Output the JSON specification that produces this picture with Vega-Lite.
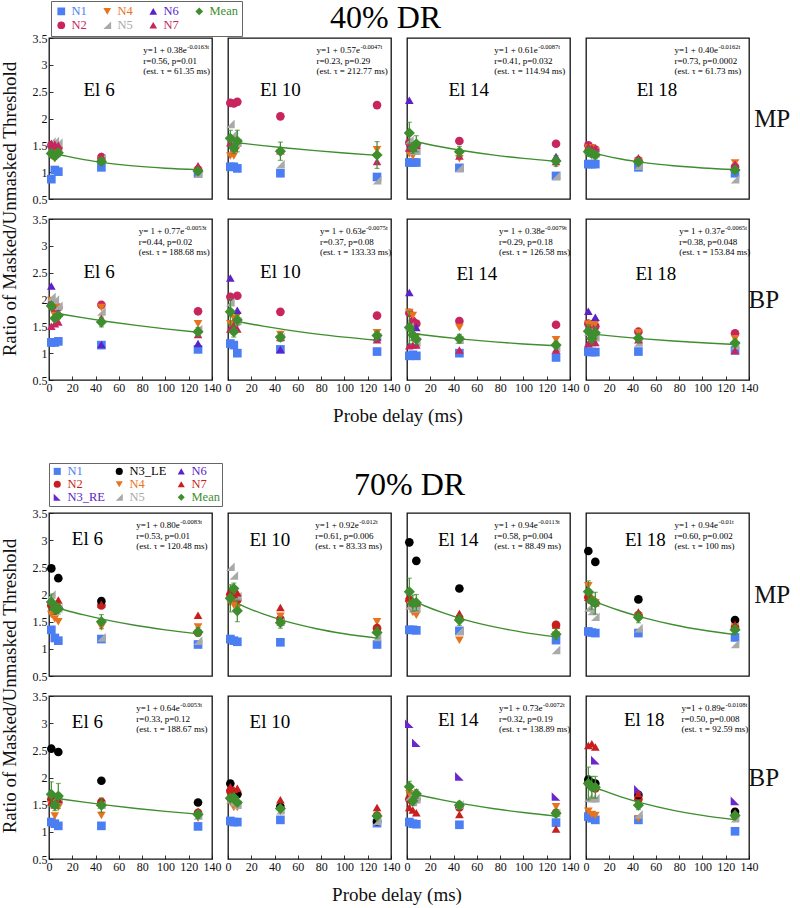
{
"$schema": "https://vega.github.io/schema/vega-lite/v6.json",
"padding": {"left": 0, "top": 0, "right": 0, "bottom": 0},
"config": {
 "font": "Liberation Serif",
 "view": {"stroke": "#111", "strokeWidth": 1.3},
 "axis": {"labelFont": "Liberation Serif", "labelFontSize": 12, "labelColor": "#111", "tickColor": "#333", "domain": false, "grid": false, "tickSize": -4, "labelPadding": 6, "labelOverlap": false, "labelFlush": false},
 "header": {"labelFont": "Liberation Serif", "titleFont": "Liberation Serif", "labelColor": "#111", "titleColor": "#111"},
 "title": {"font": "Liberation Serif", "fontWeight": "normal", "fontSize": 32, "color": "#000"},
 "legend": {"labelFont": "Liberation Serif", "labelFontSize": 12.5}
},
"datasets": {
"d40": [
{"k":"p","c":"MP","e":6,"s":"N1","t":2,"y":0.87},{"k":"p","c":"MP","e":6,"s":"N1","t":5,"y":1.04},{"k":"p","c":"MP","e":6,"s":"N1","t":8,"y":1.01},{"k":"p","c":"MP","e":6,"s":"N1","t":45,"y":1.09},{"k":"p","c":"MP","e":6,"s":"N1","t":128,"y":0.98},
{"k":"p","c":"MP","e":6,"s":"N2","t":2,"y":1.50},{"k":"p","c":"MP","e":6,"s":"N2","t":5,"y":1.47},{"k":"p","c":"MP","e":6,"s":"N2","t":8,"y":1.45},{"k":"p","c":"MP","e":6,"s":"N2","t":45,"y":1.28},{"k":"p","c":"MP","e":6,"s":"N2","t":128,"y":1.05},
{"k":"p","c":"MP","e":6,"s":"N4","t":2,"y":1.30},{"k":"p","c":"MP","e":6,"s":"N4","t":5,"y":1.25},{"k":"p","c":"MP","e":6,"s":"N4","t":8,"y":1.35},{"k":"p","c":"MP","e":6,"s":"N4","t":45,"y":1.22},{"k":"p","c":"MP","e":6,"s":"N4","t":128,"y":1.02},
{"k":"p","c":"MP","e":6,"s":"N5","t":2,"y":1.57},{"k":"p","c":"MP","e":6,"s":"N5","t":5,"y":1.58},{"k":"p","c":"MP","e":6,"s":"N5","t":8,"y":1.55},{"k":"p","c":"MP","e":6,"s":"N5","t":45,"y":1.26},{"k":"p","c":"MP","e":6,"s":"N5","t":128,"y":0.97},
{"k":"p","c":"MP","e":6,"s":"N7","t":2,"y":1.54},{"k":"p","c":"MP","e":6,"s":"N7","t":5,"y":1.52},{"k":"p","c":"MP","e":6,"s":"N7","t":8,"y":1.50},{"k":"p","c":"MP","e":6,"s":"N7","t":45,"y":1.30},{"k":"p","c":"MP","e":6,"s":"N7","t":128,"y":1.12},
{"k":"m","c":"MP","e":6,"s":"Mean","t":2,"y":1.35,"lo":1.28,"hi":1.42},{"k":"m","c":"MP","e":6,"s":"Mean","t":5,"y":1.30,"lo":1.24,"hi":1.36},{"k":"m","c":"MP","e":6,"s":"Mean","t":8,"y":1.36,"lo":1.29,"hi":1.43},{"k":"m","c":"MP","e":6,"s":"Mean","t":45,"y":1.20,"lo":1.14,"hi":1.26},{"k":"m","c":"MP","e":6,"s":"Mean","t":128,"y":1.02,"lo":0.98,"hi":1.06},
{"k":"p","c":"MP","e":10,"s":"N1","t":2,"y":1.10},{"k":"p","c":"MP","e":10,"s":"N1","t":5,"y":1.10},{"k":"p","c":"MP","e":10,"s":"N1","t":8,"y":1.07},{"k":"p","c":"MP","e":10,"s":"N1","t":45,"y":0.98},{"k":"p","c":"MP","e":10,"s":"N1","t":128,"y":0.91},
{"k":"p","c":"MP","e":10,"s":"N2","t":2,"y":2.29},{"k":"p","c":"MP","e":10,"s":"N2","t":5,"y":2.28},{"k":"p","c":"MP","e":10,"s":"N2","t":8,"y":2.31},{"k":"p","c":"MP","e":10,"s":"N2","t":45,"y":2.04},{"k":"p","c":"MP","e":10,"s":"N2","t":128,"y":2.25},
{"k":"p","c":"MP","e":10,"s":"N4","t":2,"y":1.30},{"k":"p","c":"MP","e":10,"s":"N4","t":5,"y":1.30},{"k":"p","c":"MP","e":10,"s":"N4","t":8,"y":1.45},{"k":"p","c":"MP","e":10,"s":"N4","t":45,"y":1.35},{"k":"p","c":"MP","e":10,"s":"N4","t":128,"y":1.42},
{"k":"p","c":"MP","e":10,"s":"N5","t":2,"y":1.90},{"k":"p","c":"MP","e":10,"s":"N5","t":5,"y":1.72},{"k":"p","c":"MP","e":10,"s":"N5","t":8,"y":1.55},{"k":"p","c":"MP","e":10,"s":"N5","t":45,"y":1.15},{"k":"p","c":"MP","e":10,"s":"N5","t":128,"y":0.85},
{"k":"p","c":"MP","e":10,"s":"N7","t":2,"y":1.55},{"k":"p","c":"MP","e":10,"s":"N7","t":5,"y":1.45},{"k":"p","c":"MP","e":10,"s":"N7","t":8,"y":1.60},{"k":"p","c":"MP","e":10,"s":"N7","t":45,"y":1.40},{"k":"p","c":"MP","e":10,"s":"N7","t":128,"y":1.20},
{"k":"m","c":"MP","e":10,"s":"Mean","t":2,"y":1.63,"lo":1.48,"hi":1.78},{"k":"m","c":"MP","e":10,"s":"Mean","t":5,"y":1.45,"lo":1.35,"hi":1.55},{"k":"m","c":"MP","e":10,"s":"Mean","t":8,"y":1.58,"lo":1.38,"hi":1.78},{"k":"m","c":"MP","e":10,"s":"Mean","t":45,"y":1.39,"lo":1.22,"hi":1.56},{"k":"m","c":"MP","e":10,"s":"Mean","t":128,"y":1.32,"lo":1.07,"hi":1.57},
{"k":"p","c":"MP","e":14,"s":"N1","t":2,"y":1.18},{"k":"p","c":"MP","e":14,"s":"N1","t":5,"y":1.18},{"k":"p","c":"MP","e":14,"s":"N1","t":8,"y":1.18},{"k":"p","c":"MP","e":14,"s":"N1","t":45,"y":1.08},{"k":"p","c":"MP","e":14,"s":"N1","t":128,"y":0.93},
{"k":"p","c":"MP","e":14,"s":"N2","t":2,"y":1.55},{"k":"p","c":"MP","e":14,"s":"N2","t":5,"y":1.50},{"k":"p","c":"MP","e":14,"s":"N2","t":8,"y":1.50},{"k":"p","c":"MP","e":14,"s":"N2","t":45,"y":1.58},{"k":"p","c":"MP","e":14,"s":"N2","t":128,"y":1.53},
{"k":"p","c":"MP","e":14,"s":"N4","t":2,"y":1.34},{"k":"p","c":"MP","e":14,"s":"N4","t":5,"y":1.30},{"k":"p","c":"MP","e":14,"s":"N4","t":8,"y":1.40},{"k":"p","c":"MP","e":14,"s":"N4","t":45,"y":1.25},{"k":"p","c":"MP","e":14,"s":"N4","t":128,"y":1.15},
{"k":"p","c":"MP","e":14,"s":"N5","t":2,"y":1.60},{"k":"p","c":"MP","e":14,"s":"N5","t":5,"y":1.40},{"k":"p","c":"MP","e":14,"s":"N5","t":8,"y":1.40},{"k":"p","c":"MP","e":14,"s":"N5","t":45,"y":1.08},{"k":"p","c":"MP","e":14,"s":"N5","t":128,"y":0.93},
{"k":"p","c":"MP","e":14,"s":"N6","t":2,"y":2.34},{"k":"p","c":"MP","e":14,"s":"N6","t":128,"y":1.29},
{"k":"p","c":"MP","e":14,"s":"N7","t":2,"y":1.45},{"k":"p","c":"MP","e":14,"s":"N7","t":5,"y":1.45},{"k":"p","c":"MP","e":14,"s":"N7","t":8,"y":1.50},{"k":"p","c":"MP","e":14,"s":"N7","t":45,"y":1.30},{"k":"p","c":"MP","e":14,"s":"N7","t":128,"y":1.20},
{"k":"m","c":"MP","e":14,"s":"Mean","t":2,"y":1.73,"lo":1.53,"hi":1.93},{"k":"m","c":"MP","e":14,"s":"Mean","t":5,"y":1.45,"lo":1.35,"hi":1.55},{"k":"m","c":"MP","e":14,"s":"Mean","t":8,"y":1.53,"lo":1.38,"hi":1.68},{"k":"m","c":"MP","e":14,"s":"Mean","t":45,"y":1.38,"lo":1.28,"hi":1.48},{"k":"m","c":"MP","e":14,"s":"Mean","t":128,"y":1.21,"lo":1.11,"hi":1.31},
{"k":"p","c":"MP","e":18,"s":"N1","t":2,"y":1.15},{"k":"p","c":"MP","e":18,"s":"N1","t":5,"y":1.15},{"k":"p","c":"MP","e":18,"s":"N1","t":8,"y":1.15},{"k":"p","c":"MP","e":18,"s":"N1","t":45,"y":1.09},{"k":"p","c":"MP","e":18,"s":"N1","t":128,"y":0.98},
{"k":"p","c":"MP","e":18,"s":"N2","t":2,"y":1.50},{"k":"p","c":"MP","e":18,"s":"N2","t":5,"y":1.45},{"k":"p","c":"MP","e":18,"s":"N2","t":8,"y":1.42},{"k":"p","c":"MP","e":18,"s":"N2","t":45,"y":1.22},{"k":"p","c":"MP","e":18,"s":"N2","t":128,"y":1.10},
{"k":"p","c":"MP","e":18,"s":"N4","t":2,"y":1.45},{"k":"p","c":"MP","e":18,"s":"N4","t":5,"y":1.45},{"k":"p","c":"MP","e":18,"s":"N4","t":8,"y":1.40},{"k":"p","c":"MP","e":18,"s":"N4","t":45,"y":1.20},{"k":"p","c":"MP","e":18,"s":"N4","t":128,"y":1.17},
{"k":"p","c":"MP","e":18,"s":"N5","t":2,"y":1.40},{"k":"p","c":"MP","e":18,"s":"N5","t":5,"y":1.38},{"k":"p","c":"MP","e":18,"s":"N5","t":8,"y":1.35},{"k":"p","c":"MP","e":18,"s":"N5","t":45,"y":1.12},{"k":"p","c":"MP","e":18,"s":"N5","t":128,"y":0.87},
{"k":"p","c":"MP","e":18,"s":"N7","t":2,"y":1.48},{"k":"p","c":"MP","e":18,"s":"N7","t":5,"y":1.45},{"k":"p","c":"MP","e":18,"s":"N7","t":8,"y":1.45},{"k":"p","c":"MP","e":18,"s":"N7","t":45,"y":1.27},{"k":"p","c":"MP","e":18,"s":"N7","t":128,"y":1.15},
{"k":"m","c":"MP","e":18,"s":"Mean","t":2,"y":1.38,"lo":1.30,"hi":1.46},{"k":"m","c":"MP","e":18,"s":"Mean","t":5,"y":1.35,"lo":1.28,"hi":1.42},{"k":"m","c":"MP","e":18,"s":"Mean","t":8,"y":1.32,"lo":1.25,"hi":1.39},{"k":"m","c":"MP","e":18,"s":"Mean","t":45,"y":1.19,"lo":1.14,"hi":1.24},{"k":"m","c":"MP","e":18,"s":"Mean","t":128,"y":1.04,"lo":0.99,"hi":1.09},
{"k":"p","c":"BP","e":6,"s":"N1","t":2,"y":1.20},{"k":"p","c":"BP","e":6,"s":"N1","t":5,"y":1.20},{"k":"p","c":"BP","e":6,"s":"N1","t":8,"y":1.22},{"k":"p","c":"BP","e":6,"s":"N1","t":45,"y":1.15},{"k":"p","c":"BP","e":6,"s":"N1","t":128,"y":1.07},
{"k":"p","c":"BP","e":6,"s":"N2","t":2,"y":1.90},{"k":"p","c":"BP","e":6,"s":"N2","t":5,"y":1.80},{"k":"p","c":"BP","e":6,"s":"N2","t":8,"y":1.85},{"k":"p","c":"BP","e":6,"s":"N2","t":45,"y":1.90},{"k":"p","c":"BP","e":6,"s":"N2","t":128,"y":1.78},
{"k":"p","c":"BP","e":6,"s":"N4","t":2,"y":1.98},{"k":"p","c":"BP","e":6,"s":"N4","t":5,"y":1.70},{"k":"p","c":"BP","e":6,"s":"N4","t":8,"y":1.85},{"k":"p","c":"BP","e":6,"s":"N4","t":45,"y":1.85},{"k":"p","c":"BP","e":6,"s":"N4","t":128,"y":1.55},
{"k":"p","c":"BP","e":6,"s":"N5","t":2,"y":2.05},{"k":"p","c":"BP","e":6,"s":"N5","t":5,"y":2.00},{"k":"p","c":"BP","e":6,"s":"N5","t":8,"y":1.88},{"k":"p","c":"BP","e":6,"s":"N5","t":45,"y":1.78},{"k":"p","c":"BP","e":6,"s":"N5","t":128,"y":1.45},
{"k":"p","c":"BP","e":6,"s":"N6","t":2,"y":2.25},{"k":"p","c":"BP","e":6,"s":"N6","t":8,"y":1.75},{"k":"p","c":"BP","e":6,"s":"N6","t":45,"y":1.16},{"k":"p","c":"BP","e":6,"s":"N6","t":128,"y":1.18},
{"k":"p","c":"BP","e":6,"s":"N7","t":2,"y":1.50},{"k":"p","c":"BP","e":6,"s":"N7","t":5,"y":1.55},{"k":"p","c":"BP","e":6,"s":"N7","t":8,"y":1.58},{"k":"p","c":"BP","e":6,"s":"N7","t":45,"y":1.65},{"k":"p","c":"BP","e":6,"s":"N7","t":128,"y":1.35},
{"k":"m","c":"BP","e":6,"s":"Mean","t":2,"y":1.88,"lo":1.81,"hi":1.95},{"k":"m","c":"BP","e":6,"s":"Mean","t":5,"y":1.65,"lo":1.59,"hi":1.71},{"k":"m","c":"BP","e":6,"s":"Mean","t":8,"y":1.70,"lo":1.64,"hi":1.76},{"k":"m","c":"BP","e":6,"s":"Mean","t":45,"y":1.58,"lo":1.49,"hi":1.67},{"k":"m","c":"BP","e":6,"s":"Mean","t":128,"y":1.40,"lo":1.32,"hi":1.48},
{"k":"p","c":"BP","e":10,"s":"N1","t":2,"y":1.18},{"k":"p","c":"BP","e":10,"s":"N1","t":5,"y":1.15},{"k":"p","c":"BP","e":10,"s":"N1","t":8,"y":1.00},{"k":"p","c":"BP","e":10,"s":"N1","t":45,"y":1.07},{"k":"p","c":"BP","e":10,"s":"N1","t":128,"y":1.03},
{"k":"p","c":"BP","e":10,"s":"N2","t":2,"y":2.05},{"k":"p","c":"BP","e":10,"s":"N2","t":5,"y":1.50},{"k":"p","c":"BP","e":10,"s":"N2","t":8,"y":2.07},{"k":"p","c":"BP","e":10,"s":"N2","t":45,"y":1.77},{"k":"p","c":"BP","e":10,"s":"N2","t":128,"y":1.70},
{"k":"p","c":"BP","e":10,"s":"N4","t":2,"y":1.55},{"k":"p","c":"BP","e":10,"s":"N4","t":5,"y":1.65},{"k":"p","c":"BP","e":10,"s":"N4","t":8,"y":1.70},{"k":"p","c":"BP","e":10,"s":"N4","t":45,"y":1.35},{"k":"p","c":"BP","e":10,"s":"N4","t":128,"y":1.38},
{"k":"p","c":"BP","e":10,"s":"N5","t":2,"y":1.95},{"k":"p","c":"BP","e":10,"s":"N5","t":5,"y":1.50},{"k":"p","c":"BP","e":10,"s":"N5","t":8,"y":1.60},{"k":"p","c":"BP","e":10,"s":"N5","t":45,"y":1.30},{"k":"p","c":"BP","e":10,"s":"N5","t":128,"y":1.30},
{"k":"p","c":"BP","e":10,"s":"N6","t":2,"y":2.40},{"k":"p","c":"BP","e":10,"s":"N6","t":8,"y":1.80},{"k":"p","c":"BP","e":10,"s":"N6","t":45,"y":1.07},{"k":"p","c":"BP","e":10,"s":"N6","t":128,"y":1.30},
{"k":"p","c":"BP","e":10,"s":"N7","t":2,"y":1.45},{"k":"p","c":"BP","e":10,"s":"N7","t":5,"y":1.50},{"k":"p","c":"BP","e":10,"s":"N7","t":8,"y":1.45},{"k":"p","c":"BP","e":10,"s":"N7","t":45,"y":1.30},{"k":"p","c":"BP","e":10,"s":"N7","t":128,"y":1.25},
{"k":"m","c":"BP","e":10,"s":"Mean","t":2,"y":1.77,"lo":1.52,"hi":2.02},{"k":"m","c":"BP","e":10,"s":"Mean","t":5,"y":1.40,"lo":1.30,"hi":1.50},{"k":"m","c":"BP","e":10,"s":"Mean","t":8,"y":1.62,"lo":1.52,"hi":1.72},{"k":"m","c":"BP","e":10,"s":"Mean","t":45,"y":1.30,"lo":1.22,"hi":1.38},{"k":"m","c":"BP","e":10,"s":"Mean","t":128,"y":1.33,"lo":1.26,"hi":1.40},
{"k":"p","c":"BP","e":14,"s":"N1","t":2,"y":0.95},{"k":"p","c":"BP","e":14,"s":"N1","t":5,"y":0.97},{"k":"p","c":"BP","e":14,"s":"N1","t":8,"y":0.95},{"k":"p","c":"BP","e":14,"s":"N1","t":45,"y":1.00},{"k":"p","c":"BP","e":14,"s":"N1","t":128,"y":0.92},
{"k":"p","c":"BP","e":14,"s":"N2","t":2,"y":1.75},{"k":"p","c":"BP","e":14,"s":"N2","t":5,"y":1.60},{"k":"p","c":"BP","e":14,"s":"N2","t":8,"y":1.55},{"k":"p","c":"BP","e":14,"s":"N2","t":45,"y":1.60},{"k":"p","c":"BP","e":14,"s":"N2","t":128,"y":1.53},
{"k":"p","c":"BP","e":14,"s":"N4","t":2,"y":1.76},{"k":"p","c":"BP","e":14,"s":"N4","t":5,"y":1.70},{"k":"p","c":"BP","e":14,"s":"N4","t":8,"y":1.30},{"k":"p","c":"BP","e":14,"s":"N4","t":45,"y":1.48},{"k":"p","c":"BP","e":14,"s":"N4","t":128,"y":1.25},
{"k":"p","c":"BP","e":14,"s":"N5","t":2,"y":1.50},{"k":"p","c":"BP","e":14,"s":"N5","t":5,"y":1.30},{"k":"p","c":"BP","e":14,"s":"N5","t":8,"y":1.20},{"k":"p","c":"BP","e":14,"s":"N5","t":45,"y":1.25},{"k":"p","c":"BP","e":14,"s":"N5","t":128,"y":1.10},
{"k":"p","c":"BP","e":14,"s":"N6","t":2,"y":2.13},{"k":"p","c":"BP","e":14,"s":"N6","t":8,"y":1.48},
{"k":"p","c":"BP","e":14,"s":"N7","t":2,"y":1.14},{"k":"p","c":"BP","e":14,"s":"N7","t":5,"y":1.15},{"k":"p","c":"BP","e":14,"s":"N7","t":8,"y":1.15},{"k":"p","c":"BP","e":14,"s":"N7","t":45,"y":1.06},{"k":"p","c":"BP","e":14,"s":"N7","t":128,"y":1.06},
{"k":"m","c":"BP","e":14,"s":"Mean","t":2,"y":1.48,"lo":1.18,"hi":1.78},{"k":"m","c":"BP","e":14,"s":"Mean","t":5,"y":1.34,"lo":1.24,"hi":1.44},{"k":"m","c":"BP","e":14,"s":"Mean","t":8,"y":1.26,"lo":1.16,"hi":1.36},{"k":"m","c":"BP","e":14,"s":"Mean","t":45,"y":1.27,"lo":1.19,"hi":1.35},{"k":"m","c":"BP","e":14,"s":"Mean","t":128,"y":1.15,"lo":1.08,"hi":1.22},
{"k":"p","c":"BP","e":18,"s":"N1","t":2,"y":1.03},{"k":"p","c":"BP","e":18,"s":"N1","t":5,"y":1.02},{"k":"p","c":"BP","e":18,"s":"N1","t":8,"y":1.02},{"k":"p","c":"BP","e":18,"s":"N1","t":45,"y":1.03},{"k":"p","c":"BP","e":18,"s":"N1","t":128,"y":1.05},
{"k":"p","c":"BP","e":18,"s":"N2","t":2,"y":1.55},{"k":"p","c":"BP","e":18,"s":"N2","t":5,"y":1.50},{"k":"p","c":"BP","e":18,"s":"N2","t":8,"y":1.50},{"k":"p","c":"BP","e":18,"s":"N2","t":45,"y":1.40},{"k":"p","c":"BP","e":18,"s":"N2","t":128,"y":1.37},
{"k":"p","c":"BP","e":18,"s":"N4","t":2,"y":1.54},{"k":"p","c":"BP","e":18,"s":"N4","t":5,"y":1.55},{"k":"p","c":"BP","e":18,"s":"N4","t":8,"y":1.55},{"k":"p","c":"BP","e":18,"s":"N4","t":45,"y":1.38},{"k":"p","c":"BP","e":18,"s":"N4","t":128,"y":1.27},
{"k":"p","c":"BP","e":18,"s":"N5","t":2,"y":1.40},{"k":"p","c":"BP","e":18,"s":"N5","t":5,"y":1.35},{"k":"p","c":"BP","e":18,"s":"N5","t":8,"y":1.30},{"k":"p","c":"BP","e":18,"s":"N5","t":45,"y":1.20},{"k":"p","c":"BP","e":18,"s":"N5","t":128,"y":1.15},
{"k":"p","c":"BP","e":18,"s":"N6","t":2,"y":1.78},{"k":"p","c":"BP","e":18,"s":"N6","t":8,"y":1.67},
{"k":"p","c":"BP","e":18,"s":"N7","t":2,"y":1.18},{"k":"p","c":"BP","e":18,"s":"N7","t":5,"y":1.20},{"k":"p","c":"BP","e":18,"s":"N7","t":8,"y":1.20},{"k":"p","c":"BP","e":18,"s":"N7","t":45,"y":1.25},{"k":"p","c":"BP","e":18,"s":"N7","t":128,"y":1.05},
{"k":"m","c":"BP","e":18,"s":"Mean","t":2,"y":1.41,"lo":1.29,"hi":1.53},{"k":"m","c":"BP","e":18,"s":"Mean","t":5,"y":1.27,"lo":1.17,"hi":1.37},{"k":"m","c":"BP","e":18,"s":"Mean","t":8,"y":1.38,"lo":1.28,"hi":1.48},{"k":"m","c":"BP","e":18,"s":"Mean","t":45,"y":1.28,"lo":1.21,"hi":1.35},{"k":"m","c":"BP","e":18,"s":"Mean","t":128,"y":1.19,"lo":1.12,"hi":1.26},
{"k":"f","c":"MP","e":6,"t":8,"y":1.334},{"k":"f","c":"MP","e":6,"t":15,"y":1.298},{"k":"f","c":"MP","e":6,"t":30,"y":1.233},{"k":"f","c":"MP","e":6,"t":50,"y":1.168},{"k":"f","c":"MP","e":6,"t":75,"y":1.112},{"k":"f","c":"MP","e":6,"t":100,"y":1.074},{"k":"f","c":"MP","e":6,"t":128,"y":1.047},
{"k":"f","c":"MP","e":10,"t":8,"y":1.549},{"k":"f","c":"MP","e":10,"t":15,"y":1.531},{"k":"f","c":"MP","e":10,"t":30,"y":1.495},{"k":"f","c":"MP","e":10,"t":50,"y":1.451},{"k":"f","c":"MP","e":10,"t":75,"y":1.401},{"k":"f","c":"MP","e":10,"t":100,"y":1.356},{"k":"f","c":"MP","e":10,"t":128,"y":1.312},
{"k":"f","c":"MP","e":14,"t":8,"y":1.569},{"k":"f","c":"MP","e":14,"t":15,"y":1.535},{"k":"f","c":"MP","e":14,"t":30,"y":1.470},{"k":"f","c":"MP","e":14,"t":50,"y":1.395},{"k":"f","c":"MP","e":14,"t":75,"y":1.318},{"k":"f","c":"MP","e":14,"t":100,"y":1.256},{"k":"f","c":"MP","e":14,"t":128,"y":1.200},
{"k":"f","c":"MP","e":18,"t":8,"y":1.351},{"k":"f","c":"MP","e":18,"t":15,"y":1.314},{"k":"f","c":"MP","e":18,"t":30,"y":1.246},{"k":"f","c":"MP","e":18,"t":50,"y":1.178},{"k":"f","c":"MP","e":18,"t":75,"y":1.119},{"k":"f","c":"MP","e":18,"t":100,"y":1.079},{"k":"f","c":"MP","e":18,"t":128,"y":1.050},
{"k":"f","c":"BP","e":6,"t":8,"y":1.738},{"k":"f","c":"BP","e":6,"t":15,"y":1.711},{"k":"f","c":"BP","e":6,"t":30,"y":1.657},{"k":"f","c":"BP","e":6,"t":50,"y":1.591},{"k":"f","c":"BP","e":6,"t":75,"y":1.517},{"k":"f","c":"BP","e":6,"t":100,"y":1.453},{"k":"f","c":"BP","e":6,"t":128,"y":1.391},
{"k":"f","c":"BP","e":10,"t":8,"y":1.593},{"k":"f","c":"BP","e":10,"t":15,"y":1.563},{"k":"f","c":"BP","e":10,"t":30,"y":1.503},{"k":"f","c":"BP","e":10,"t":50,"y":1.433},{"k":"f","c":"BP","e":10,"t":75,"y":1.359},{"k":"f","c":"BP","e":10,"t":100,"y":1.298},{"k":"f","c":"BP","e":10,"t":128,"y":1.241},
{"k":"f","c":"BP","e":14,"t":8,"y":1.357},{"k":"f","c":"BP","e":14,"t":15,"y":1.338},{"k":"f","c":"BP","e":14,"t":30,"y":1.300},{"k":"f","c":"BP","e":14,"t":50,"y":1.256},{"k":"f","c":"BP","e":14,"t":75,"y":1.210},{"k":"f","c":"BP","e":14,"t":100,"y":1.172},{"k":"f","c":"BP","e":14,"t":128,"y":1.138},
{"k":"f","c":"BP","e":18,"t":8,"y":1.351},{"k":"f","c":"BP","e":18,"t":15,"y":1.336},{"k":"f","c":"BP","e":18,"t":30,"y":1.304},{"k":"f","c":"BP","e":18,"t":50,"y":1.267},{"k":"f","c":"BP","e":18,"t":75,"y":1.227},{"k":"f","c":"BP","e":18,"t":100,"y":1.193},{"k":"f","c":"BP","e":18,"t":128,"y":1.161},
{"k":"l","c":"MP","e":6,"t":43,"y":2.53,"txt":"El 6"},{"k":"l","c":"MP","e":10,"t":45,"y":2.53,"txt":"El 10"},{"k":"l","c":"MP","e":14,"t":53,"y":2.53,"txt":"El 14"},{"k":"l","c":"MP","e":18,"t":61,"y":2.53,"txt":"El 18"},
{"k":"l","c":"BP","e":6,"t":43,"y":2.51,"txt":"El 6"},{"k":"l","c":"BP","e":10,"t":45,"y":2.51,"txt":"El 10"},{"k":"l","c":"BP","e":14,"t":60,"y":2.47,"txt":"El 14"},{"k":"l","c":"BP","e":18,"t":60,"y":2.47,"txt":"El 18"},
{"k":"q","c":"MP","e":6,"t":81,"y":3.22,"txt":"y=1 + 0.38e\nr=0.56, p=0.01\n(est. τ = 61.35 ms)"},{"k":"x","c":"MP","e":6,"t":81,"y":3.22,"txt":"-0.0163t"},
{"k":"q","c":"MP","e":10,"t":76,"y":3.22,"txt":"y=1 + 0.57e\nr=0.23, p=0.29\n(est. τ = 212.77 ms)"},{"k":"x","c":"MP","e":10,"t":76,"y":3.22,"txt":"-0.0047t"},
{"k":"q","c":"MP","e":14,"t":75,"y":3.22,"txt":"y=1 + 0.61e\nr=0.41, p=0.032\n(est. τ = 114.94 ms)"},{"k":"x","c":"MP","e":14,"t":75,"y":3.22,"txt":"-0.0087t"},
{"k":"q","c":"MP","e":18,"t":76,"y":3.22,"txt":"y=1 + 0.40e\nr=0.73, p=0.0002\n(est. τ = 61.73 ms)"},{"k":"x","c":"MP","e":18,"t":76,"y":3.22,"txt":"-0.0162t"},
{"k":"q","c":"BP","e":6,"t":77,"y":3.22,"txt":"y= 1 + 0.77e\nr=0.44, p=0.02\n(est. τ = 188.68 ms)"},{"k":"x2","c":"BP","e":6,"t":77,"y":3.22,"txt":"-0.0053t"},
{"k":"q","c":"BP","e":10,"t":79,"y":3.22,"txt":"y= 1 + 0.63e\nr=0.37, p=0.08\n(est. τ = 133.33 ms)"},{"k":"x2","c":"BP","e":10,"t":79,"y":3.22,"txt":"-0.0075t"},
{"k":"q","c":"BP","e":14,"t":79,"y":3.22,"txt":"y= 1 + 0.38e\nr=0.29, p=0.18\n(est. τ = 126.58 ms)"},{"k":"x2","c":"BP","e":14,"t":79,"y":3.22,"txt":"-0.0079t"},
{"k":"q","c":"BP","e":18,"t":80,"y":3.22,"txt":"y= 1 + 0.37e\nr=0.38, p=0.048\n(est. τ = 153.84 ms)"},{"k":"x2","c":"BP","e":18,"t":80,"y":3.22,"txt":"-0.0065t"}
],
"d70": [
{"k":"p","c":"MP","e":6,"s":"N1","t":2,"y":1.35},{"k":"p","c":"MP","e":6,"s":"N1","t":5,"y":1.20},{"k":"p","c":"MP","e":6,"s":"N1","t":8,"y":1.15},{"k":"p","c":"MP","e":6,"s":"N1","t":45,"y":1.18},{"k":"p","c":"MP","e":6,"s":"N1","t":128,"y":1.08},
{"k":"p","c":"MP","e":6,"s":"N2","t":2,"y":1.80},{"k":"p","c":"MP","e":6,"s":"N2","t":5,"y":1.70},{"k":"p","c":"MP","e":6,"s":"N2","t":8,"y":1.75},{"k":"p","c":"MP","e":6,"s":"N2","t":45,"y":1.80},{"k":"p","c":"MP","e":6,"s":"N2","t":128,"y":1.30},
{"k":"p","c":"MP","e":6,"s":"N3_LE","t":2,"y":2.48},{"k":"p","c":"MP","e":6,"s":"N3_LE","t":8,"y":2.30},{"k":"p","c":"MP","e":6,"s":"N3_LE","t":45,"y":1.88},
{"k":"p","c":"MP","e":6,"s":"N4","t":2,"y":1.63},{"k":"p","c":"MP","e":6,"s":"N4","t":5,"y":1.55},{"k":"p","c":"MP","e":6,"s":"N4","t":8,"y":1.50},{"k":"p","c":"MP","e":6,"s":"N4","t":45,"y":1.40},{"k":"p","c":"MP","e":6,"s":"N4","t":128,"y":1.40},
{"k":"p","c":"MP","e":6,"s":"N5","t":2,"y":2.00},{"k":"p","c":"MP","e":6,"s":"N5","t":5,"y":1.85},{"k":"p","c":"MP","e":6,"s":"N5","t":8,"y":1.75},{"k":"p","c":"MP","e":6,"s":"N5","t":45,"y":1.21},{"k":"p","c":"MP","e":6,"s":"N5","t":128,"y":1.15},
{"k":"p","c":"MP","e":6,"s":"N7","t":2,"y":1.85},{"k":"p","c":"MP","e":6,"s":"N7","t":5,"y":1.80},{"k":"p","c":"MP","e":6,"s":"N7","t":8,"y":1.90},{"k":"p","c":"MP","e":6,"s":"N7","t":45,"y":1.82},{"k":"p","c":"MP","e":6,"s":"N7","t":128,"y":1.62},
{"k":"m","c":"MP","e":6,"s":"Mean","t":2,"y":1.86,"lo":1.71,"hi":2.01},{"k":"m","c":"MP","e":6,"s":"Mean","t":5,"y":1.74,"lo":1.64,"hi":1.84},{"k":"m","c":"MP","e":6,"s":"Mean","t":8,"y":1.74,"lo":1.64,"hi":1.84},{"k":"m","c":"MP","e":6,"s":"Mean","t":45,"y":1.50,"lo":1.37,"hi":1.63},{"k":"m","c":"MP","e":6,"s":"Mean","t":128,"y":1.31,"lo":1.23,"hi":1.39},
{"k":"p","c":"MP","e":10,"s":"N1","t":2,"y":1.18},{"k":"p","c":"MP","e":10,"s":"N1","t":5,"y":1.15},{"k":"p","c":"MP","e":10,"s":"N1","t":8,"y":1.13},{"k":"p","c":"MP","e":10,"s":"N1","t":45,"y":1.12},{"k":"p","c":"MP","e":10,"s":"N1","t":128,"y":1.08},
{"k":"p","c":"MP","e":10,"s":"N2","t":2,"y":2.00},{"k":"p","c":"MP","e":10,"s":"N2","t":5,"y":1.90},{"k":"p","c":"MP","e":10,"s":"N2","t":8,"y":1.90},{"k":"p","c":"MP","e":10,"s":"N2","t":45,"y":1.55},{"k":"p","c":"MP","e":10,"s":"N2","t":128,"y":1.38},
{"k":"p","c":"MP","e":10,"s":"N4","t":2,"y":1.85},{"k":"p","c":"MP","e":10,"s":"N4","t":5,"y":1.80},{"k":"p","c":"MP","e":10,"s":"N4","t":8,"y":1.75},{"k":"p","c":"MP","e":10,"s":"N4","t":45,"y":1.60},{"k":"p","c":"MP","e":10,"s":"N4","t":128,"y":1.50},
{"k":"p","c":"MP","e":10,"s":"N5","t":2,"y":2.51},{"k":"p","c":"MP","e":10,"s":"N5","t":5,"y":2.35},{"k":"p","c":"MP","e":10,"s":"N5","t":8,"y":1.97},{"k":"p","c":"MP","e":10,"s":"N5","t":45,"y":1.50},{"k":"p","c":"MP","e":10,"s":"N5","t":128,"y":1.22},
{"k":"p","c":"MP","e":10,"s":"N7","t":2,"y":2.06},{"k":"p","c":"MP","e":10,"s":"N7","t":5,"y":2.00},{"k":"p","c":"MP","e":10,"s":"N7","t":8,"y":2.03},{"k":"p","c":"MP","e":10,"s":"N7","t":45,"y":1.76},{"k":"p","c":"MP","e":10,"s":"N7","t":128,"y":1.41},
{"k":"m","c":"MP","e":10,"s":"Mean","t":2,"y":1.93,"lo":1.68,"hi":2.18},{"k":"m","c":"MP","e":10,"s":"Mean","t":5,"y":2.11,"lo":2.01,"hi":2.21},{"k":"m","c":"MP","e":10,"s":"Mean","t":8,"y":1.70,"lo":1.50,"hi":1.90},{"k":"m","c":"MP","e":10,"s":"Mean","t":45,"y":1.48,"lo":1.38,"hi":1.58},{"k":"m","c":"MP","e":10,"s":"Mean","t":128,"y":1.30,"lo":1.20,"hi":1.40},
{"k":"p","c":"MP","e":14,"s":"N1","t":2,"y":1.35},{"k":"p","c":"MP","e":14,"s":"N1","t":5,"y":1.35},{"k":"p","c":"MP","e":14,"s":"N1","t":8,"y":1.34},{"k":"p","c":"MP","e":14,"s":"N1","t":45,"y":1.33},{"k":"p","c":"MP","e":14,"s":"N1","t":128,"y":1.16},
{"k":"p","c":"MP","e":14,"s":"N2","t":2,"y":1.90},{"k":"p","c":"MP","e":14,"s":"N2","t":5,"y":1.85},{"k":"p","c":"MP","e":14,"s":"N2","t":8,"y":1.80},{"k":"p","c":"MP","e":14,"s":"N2","t":45,"y":1.55},{"k":"p","c":"MP","e":14,"s":"N2","t":128,"y":1.44},
{"k":"p","c":"MP","e":14,"s":"N3_LE","t":2,"y":2.96},{"k":"p","c":"MP","e":14,"s":"N3_LE","t":8,"y":2.62},{"k":"p","c":"MP","e":14,"s":"N3_LE","t":45,"y":2.11},
{"k":"p","c":"MP","e":14,"s":"N4","t":2,"y":1.85},{"k":"p","c":"MP","e":14,"s":"N4","t":5,"y":1.67},{"k":"p","c":"MP","e":14,"s":"N4","t":8,"y":1.62},{"k":"p","c":"MP","e":14,"s":"N4","t":45,"y":1.16},{"k":"p","c":"MP","e":14,"s":"N4","t":128,"y":1.25},
{"k":"p","c":"MP","e":14,"s":"N5","t":2,"y":1.80},{"k":"p","c":"MP","e":14,"s":"N5","t":5,"y":1.75},{"k":"p","c":"MP","e":14,"s":"N5","t":8,"y":1.75},{"k":"p","c":"MP","e":14,"s":"N5","t":45,"y":1.33},{"k":"p","c":"MP","e":14,"s":"N5","t":128,"y":0.98},
{"k":"p","c":"MP","e":14,"s":"N7","t":2,"y":1.94},{"k":"p","c":"MP","e":14,"s":"N7","t":5,"y":1.85},{"k":"p","c":"MP","e":14,"s":"N7","t":8,"y":1.85},{"k":"p","c":"MP","e":14,"s":"N7","t":45,"y":1.65},{"k":"p","c":"MP","e":14,"s":"N7","t":128,"y":1.44},
{"k":"m","c":"MP","e":14,"s":"Mean","t":2,"y":2.05,"lo":1.80,"hi":2.30},{"k":"m","c":"MP","e":14,"s":"Mean","t":5,"y":1.84,"lo":1.69,"hi":1.99},{"k":"m","c":"MP","e":14,"s":"Mean","t":8,"y":1.85,"lo":1.70,"hi":2.00},{"k":"m","c":"MP","e":14,"s":"Mean","t":45,"y":1.53,"lo":1.43,"hi":1.63},{"k":"m","c":"MP","e":14,"s":"Mean","t":128,"y":1.27,"lo":1.17,"hi":1.37},
{"k":"p","c":"MP","e":18,"s":"N1","t":2,"y":1.32},{"k":"p","c":"MP","e":18,"s":"N1","t":5,"y":1.30},{"k":"p","c":"MP","e":18,"s":"N1","t":8,"y":1.29},{"k":"p","c":"MP","e":18,"s":"N1","t":45,"y":1.29},{"k":"p","c":"MP","e":18,"s":"N1","t":128,"y":1.21},
{"k":"p","c":"MP","e":18,"s":"N2","t":2,"y":1.95},{"k":"p","c":"MP","e":18,"s":"N2","t":5,"y":1.90},{"k":"p","c":"MP","e":18,"s":"N2","t":8,"y":1.85},{"k":"p","c":"MP","e":18,"s":"N2","t":45,"y":1.62},{"k":"p","c":"MP","e":18,"s":"N2","t":128,"y":1.40},
{"k":"p","c":"MP","e":18,"s":"N3_LE","t":2,"y":2.80},{"k":"p","c":"MP","e":18,"s":"N3_LE","t":8,"y":2.60},{"k":"p","c":"MP","e":18,"s":"N3_LE","t":45,"y":1.91},{"k":"p","c":"MP","e":18,"s":"N3_LE","t":128,"y":1.53},
{"k":"p","c":"MP","e":18,"s":"N4","t":2,"y":2.16},{"k":"p","c":"MP","e":18,"s":"N4","t":5,"y":1.90},{"k":"p","c":"MP","e":18,"s":"N4","t":8,"y":1.85},{"k":"p","c":"MP","e":18,"s":"N4","t":45,"y":1.60},{"k":"p","c":"MP","e":18,"s":"N4","t":128,"y":1.40},
{"k":"p","c":"MP","e":18,"s":"N5","t":2,"y":1.76},{"k":"p","c":"MP","e":18,"s":"N5","t":5,"y":1.70},{"k":"p","c":"MP","e":18,"s":"N5","t":8,"y":1.59},{"k":"p","c":"MP","e":18,"s":"N5","t":45,"y":1.38},{"k":"p","c":"MP","e":18,"s":"N5","t":128,"y":1.09},
{"k":"p","c":"MP","e":18,"s":"N7","t":2,"y":1.95},{"k":"p","c":"MP","e":18,"s":"N7","t":5,"y":1.90},{"k":"p","c":"MP","e":18,"s":"N7","t":8,"y":1.85},{"k":"p","c":"MP","e":18,"s":"N7","t":45,"y":1.68},{"k":"p","c":"MP","e":18,"s":"N7","t":128,"y":1.45},
{"k":"m","c":"MP","e":18,"s":"Mean","t":2,"y":2.05,"lo":1.85,"hi":2.25},{"k":"m","c":"MP","e":18,"s":"Mean","t":5,"y":1.88,"lo":1.73,"hi":2.03},{"k":"m","c":"MP","e":18,"s":"Mean","t":8,"y":1.84,"lo":1.64,"hi":2.04},{"k":"m","c":"MP","e":18,"s":"Mean","t":45,"y":1.58,"lo":1.48,"hi":1.68},{"k":"m","c":"MP","e":18,"s":"Mean","t":128,"y":1.35,"lo":1.27,"hi":1.43},
{"k":"p","c":"BP","e":6,"s":"N1","t":2,"y":1.18},{"k":"p","c":"BP","e":6,"s":"N1","t":5,"y":1.15},{"k":"p","c":"BP","e":6,"s":"N1","t":8,"y":1.11},{"k":"p","c":"BP","e":6,"s":"N1","t":45,"y":1.11},{"k":"p","c":"BP","e":6,"s":"N1","t":128,"y":1.10},
{"k":"p","c":"BP","e":6,"s":"N2","t":2,"y":1.60},{"k":"p","c":"BP","e":6,"s":"N2","t":5,"y":1.55},{"k":"p","c":"BP","e":6,"s":"N2","t":8,"y":1.55},{"k":"p","c":"BP","e":6,"s":"N2","t":45,"y":1.55},{"k":"p","c":"BP","e":6,"s":"N2","t":128,"y":1.35},
{"k":"p","c":"BP","e":6,"s":"N3_LE","t":2,"y":2.53},{"k":"p","c":"BP","e":6,"s":"N3_LE","t":8,"y":2.47},{"k":"p","c":"BP","e":6,"s":"N3_LE","t":45,"y":1.94},{"k":"p","c":"BP","e":6,"s":"N3_LE","t":128,"y":1.54},
{"k":"p","c":"BP","e":6,"s":"N4","t":2,"y":1.50},{"k":"p","c":"BP","e":6,"s":"N4","t":5,"y":1.29},{"k":"p","c":"BP","e":6,"s":"N4","t":8,"y":1.45},{"k":"p","c":"BP","e":6,"s":"N4","t":45,"y":1.30},{"k":"p","c":"BP","e":6,"s":"N4","t":128,"y":1.25},
{"k":"p","c":"BP","e":6,"s":"N5","t":2,"y":1.55},{"k":"p","c":"BP","e":6,"s":"N5","t":5,"y":1.50},{"k":"p","c":"BP","e":6,"s":"N5","t":8,"y":1.60},{"k":"p","c":"BP","e":6,"s":"N5","t":45,"y":1.50},{"k":"p","c":"BP","e":6,"s":"N5","t":128,"y":1.30},
{"k":"p","c":"BP","e":6,"s":"N7","t":2,"y":1.55},{"k":"p","c":"BP","e":6,"s":"N7","t":5,"y":1.50},{"k":"p","c":"BP","e":6,"s":"N7","t":8,"y":1.60},{"k":"p","c":"BP","e":6,"s":"N7","t":45,"y":1.55},{"k":"p","c":"BP","e":6,"s":"N7","t":128,"y":1.38},
{"k":"m","c":"BP","e":6,"s":"Mean","t":2,"y":1.69,"lo":1.46,"hi":1.92},{"k":"m","c":"BP","e":6,"s":"Mean","t":5,"y":1.49,"lo":1.39,"hi":1.59},{"k":"m","c":"BP","e":6,"s":"Mean","t":8,"y":1.66,"lo":1.43,"hi":1.89},{"k":"m","c":"BP","e":6,"s":"Mean","t":45,"y":1.49,"lo":1.36,"hi":1.62},{"k":"m","c":"BP","e":6,"s":"Mean","t":128,"y":1.32,"lo":1.25,"hi":1.39},
{"k":"p","c":"BP","e":10,"s":"N1","t":2,"y":1.20},{"k":"p","c":"BP","e":10,"s":"N1","t":5,"y":1.18},{"k":"p","c":"BP","e":10,"s":"N1","t":8,"y":1.18},{"k":"p","c":"BP","e":10,"s":"N1","t":45,"y":1.22},{"k":"p","c":"BP","e":10,"s":"N1","t":128,"y":1.16},
{"k":"p","c":"BP","e":10,"s":"N2","t":2,"y":1.75},{"k":"p","c":"BP","e":10,"s":"N2","t":5,"y":1.70},{"k":"p","c":"BP","e":10,"s":"N2","t":8,"y":1.70},{"k":"p","c":"BP","e":10,"s":"N2","t":45,"y":1.45},{"k":"p","c":"BP","e":10,"s":"N2","t":128,"y":1.30},
{"k":"p","c":"BP","e":10,"s":"N3_LE","t":2,"y":1.89},{"k":"p","c":"BP","e":10,"s":"N3_LE","t":8,"y":1.69},{"k":"p","c":"BP","e":10,"s":"N3_LE","t":45,"y":1.46},{"k":"p","c":"BP","e":10,"s":"N3_LE","t":128,"y":1.19},
{"k":"p","c":"BP","e":10,"s":"N4","t":2,"y":1.55},{"k":"p","c":"BP","e":10,"s":"N4","t":5,"y":1.45},{"k":"p","c":"BP","e":10,"s":"N4","t":8,"y":1.45},{"k":"p","c":"BP","e":10,"s":"N4","t":45,"y":1.37},{"k":"p","c":"BP","e":10,"s":"N4","t":128,"y":1.25},
{"k":"p","c":"BP","e":10,"s":"N5","t":2,"y":1.60},{"k":"p","c":"BP","e":10,"s":"N5","t":5,"y":1.55},{"k":"p","c":"BP","e":10,"s":"N5","t":8,"y":1.50},{"k":"p","c":"BP","e":10,"s":"N5","t":45,"y":1.40},{"k":"p","c":"BP","e":10,"s":"N5","t":128,"y":1.20},
{"k":"p","c":"BP","e":10,"s":"N7","t":2,"y":1.83},{"k":"p","c":"BP","e":10,"s":"N7","t":5,"y":1.78},{"k":"p","c":"BP","e":10,"s":"N7","t":8,"y":1.80},{"k":"p","c":"BP","e":10,"s":"N7","t":45,"y":1.59},{"k":"p","c":"BP","e":10,"s":"N7","t":128,"y":1.45},
{"k":"m","c":"BP","e":10,"s":"Mean","t":2,"y":1.62},{"k":"m","c":"BP","e":10,"s":"Mean","t":5,"y":1.63},{"k":"m","c":"BP","e":10,"s":"Mean","t":8,"y":1.54},{"k":"m","c":"BP","e":10,"s":"Mean","t":45,"y":1.43},{"k":"m","c":"BP","e":10,"s":"Mean","t":128,"y":1.29},
{"k":"p","c":"BP","e":14,"s":"N1","t":2,"y":1.18},{"k":"p","c":"BP","e":14,"s":"N1","t":5,"y":1.15},{"k":"p","c":"BP","e":14,"s":"N1","t":8,"y":1.14},{"k":"p","c":"BP","e":14,"s":"N1","t":45,"y":1.13},{"k":"p","c":"BP","e":14,"s":"N1","t":128,"y":1.17},
{"k":"p","c":"BP","e":14,"s":"N2","t":2,"y":1.60},{"k":"p","c":"BP","e":14,"s":"N2","t":5,"y":1.55},{"k":"p","c":"BP","e":14,"s":"N2","t":8,"y":1.60},{"k":"p","c":"BP","e":14,"s":"N2","t":45,"y":1.45},{"k":"p","c":"BP","e":14,"s":"N2","t":128,"y":1.35},
{"k":"p","c":"BP","e":14,"s":"N3_RE","t":2,"y":2.99},{"k":"p","c":"BP","e":14,"s":"N3_RE","t":8,"y":2.64},{"k":"p","c":"BP","e":14,"s":"N3_RE","t":45,"y":2.02},{"k":"p","c":"BP","e":14,"s":"N3_RE","t":128,"y":1.65},
{"k":"p","c":"BP","e":14,"s":"N4","t":2,"y":1.70},{"k":"p","c":"BP","e":14,"s":"N4","t":5,"y":1.55},{"k":"p","c":"BP","e":14,"s":"N4","t":8,"y":1.60},{"k":"p","c":"BP","e":14,"s":"N4","t":45,"y":1.48},{"k":"p","c":"BP","e":14,"s":"N4","t":128,"y":1.46},
{"k":"p","c":"BP","e":14,"s":"N5","t":2,"y":1.65},{"k":"p","c":"BP","e":14,"s":"N5","t":5,"y":1.55},{"k":"p","c":"BP","e":14,"s":"N5","t":8,"y":1.60},{"k":"p","c":"BP","e":14,"s":"N5","t":45,"y":1.50},{"k":"p","c":"BP","e":14,"s":"N5","t":128,"y":1.35},
{"k":"p","c":"BP","e":14,"s":"N7","t":2,"y":1.45},{"k":"p","c":"BP","e":14,"s":"N7","t":5,"y":1.40},{"k":"p","c":"BP","e":14,"s":"N7","t":8,"y":1.35},{"k":"p","c":"BP","e":14,"s":"N7","t":45,"y":1.32},{"k":"p","c":"BP","e":14,"s":"N7","t":128,"y":1.05},
{"k":"m","c":"BP","e":14,"s":"Mean","t":2,"y":1.83,"lo":1.73,"hi":1.93},{"k":"m","c":"BP","e":14,"s":"Mean","t":5,"y":1.57,"lo":1.49,"hi":1.65},{"k":"m","c":"BP","e":14,"s":"Mean","t":8,"y":1.70,"lo":1.62,"hi":1.78},{"k":"m","c":"BP","e":14,"s":"Mean","t":45,"y":1.49,"lo":1.42,"hi":1.56},{"k":"m","c":"BP","e":14,"s":"Mean","t":128,"y":1.34,"lo":1.29,"hi":1.39},
{"k":"p","c":"BP","e":18,"s":"N1","t":2,"y":1.28},{"k":"p","c":"BP","e":18,"s":"N1","t":5,"y":1.25},{"k":"p","c":"BP","e":18,"s":"N1","t":8,"y":1.22},{"k":"p","c":"BP","e":18,"s":"N1","t":45,"y":1.22},{"k":"p","c":"BP","e":18,"s":"N1","t":128,"y":1.01},
{"k":"p","c":"BP","e":18,"s":"N2","t":2,"y":1.90},{"k":"p","c":"BP","e":18,"s":"N2","t":5,"y":1.85},{"k":"p","c":"BP","e":18,"s":"N2","t":8,"y":1.80},{"k":"p","c":"BP","e":18,"s":"N2","t":45,"y":1.60},{"k":"p","c":"BP","e":18,"s":"N2","t":128,"y":1.30},
{"k":"p","c":"BP","e":18,"s":"N3_LE","t":2,"y":1.96},{"k":"p","c":"BP","e":18,"s":"N3_LE","t":5,"y":1.90},{"k":"p","c":"BP","e":18,"s":"N3_LE","t":8,"y":1.89},{"k":"p","c":"BP","e":18,"s":"N3_LE","t":45,"y":1.68},{"k":"p","c":"BP","e":18,"s":"N3_LE","t":128,"y":1.37},
{"k":"p","c":"BP","e":18,"s":"N3_RE","t":8,"y":2.32},{"k":"p","c":"BP","e":18,"s":"N3_RE","t":45,"y":1.78},{"k":"p","c":"BP","e":18,"s":"N3_RE","t":128,"y":1.57},
{"k":"p","c":"BP","e":18,"s":"N4","t":2,"y":1.38},{"k":"p","c":"BP","e":18,"s":"N4","t":5,"y":1.32},{"k":"p","c":"BP","e":18,"s":"N4","t":8,"y":1.30},{"k":"p","c":"BP","e":18,"s":"N4","t":45,"y":1.24},{"k":"p","c":"BP","e":18,"s":"N4","t":128,"y":1.25},
{"k":"p","c":"BP","e":18,"s":"N5","t":2,"y":1.63},{"k":"p","c":"BP","e":18,"s":"N5","t":5,"y":1.62},{"k":"p","c":"BP","e":18,"s":"N5","t":8,"y":1.62},{"k":"p","c":"BP","e":18,"s":"N5","t":45,"y":1.32},{"k":"p","c":"BP","e":18,"s":"N5","t":128,"y":1.25},
{"k":"p","c":"BP","e":18,"s":"N7","t":2,"y":2.59},{"k":"p","c":"BP","e":18,"s":"N7","t":5,"y":2.62},{"k":"p","c":"BP","e":18,"s":"N7","t":8,"y":2.56},{"k":"p","c":"BP","e":18,"s":"N7","t":45,"y":1.70},{"k":"p","c":"BP","e":18,"s":"N7","t":128,"y":1.35},
{"k":"m","c":"BP","e":18,"s":"Mean","t":2,"y":1.89,"lo":1.59,"hi":2.19},{"k":"m","c":"BP","e":18,"s":"Mean","t":5,"y":1.82,"lo":1.62,"hi":2.02},{"k":"m","c":"BP","e":18,"s":"Mean","t":8,"y":1.82,"lo":1.62,"hi":2.02},{"k":"m","c":"BP","e":18,"s":"Mean","t":45,"y":1.49,"lo":1.41,"hi":1.57},{"k":"m","c":"BP","e":18,"s":"Mean","t":128,"y":1.30,"lo":1.25,"hi":1.35},
{"k":"f","c":"MP","e":6,"t":8,"y":1.749},{"k":"f","c":"MP","e":6,"t":15,"y":1.706},{"k":"f","c":"MP","e":6,"t":30,"y":1.624},{"k":"f","c":"MP","e":6,"t":50,"y":1.528},{"k":"f","c":"MP","e":6,"t":75,"y":1.429},{"k":"f","c":"MP","e":6,"t":100,"y":1.349},{"k":"f","c":"MP","e":6,"t":128,"y":1.276},
{"k":"f","c":"MP","e":10,"t":8,"y":1.836},{"k":"f","c":"MP","e":10,"t":15,"y":1.768},{"k":"f","c":"MP","e":10,"t":30,"y":1.642},{"k":"f","c":"MP","e":10,"t":50,"y":1.505},{"k":"f","c":"MP","e":10,"t":75,"y":1.374},{"k":"f","c":"MP","e":10,"t":100,"y":1.277},{"k":"f","c":"MP","e":10,"t":128,"y":1.198},
{"k":"f","c":"MP","e":14,"t":8,"y":1.859},{"k":"f","c":"MP","e":14,"t":15,"y":1.793},{"k":"f","c":"MP","e":14,"t":30,"y":1.670},{"k":"f","c":"MP","e":14,"t":50,"y":1.534},{"k":"f","c":"MP","e":14,"t":75,"y":1.403},{"k":"f","c":"MP","e":14,"t":100,"y":1.304},{"k":"f","c":"MP","e":14,"t":128,"y":1.221},
{"k":"f","c":"MP","e":18,"t":8,"y":1.868},{"k":"f","c":"MP","e":18,"t":15,"y":1.809},{"k":"f","c":"MP","e":18,"t":30,"y":1.696},{"k":"f","c":"MP","e":18,"t":50,"y":1.570},{"k":"f","c":"MP","e":18,"t":75,"y":1.444},{"k":"f","c":"MP","e":18,"t":100,"y":1.346},{"k":"f","c":"MP","e":18,"t":128,"y":1.261},
{"k":"f","c":"BP","e":6,"t":8,"y":1.613},{"k":"f","c":"BP","e":6,"t":15,"y":1.591},{"k":"f","c":"BP","e":6,"t":30,"y":1.546},{"k":"f","c":"BP","e":6,"t":50,"y":1.491},{"k":"f","c":"BP","e":6,"t":75,"y":1.430},{"k":"f","c":"BP","e":6,"t":100,"y":1.377},{"k":"f","c":"BP","e":6,"t":128,"y":1.325},
{"k":"f","c":"BP","e":14,"t":8,"y":1.689},{"k":"f","c":"BP","e":14,"t":15,"y":1.655},{"k":"f","c":"BP","e":14,"t":30,"y":1.588},{"k":"f","c":"BP","e":14,"t":50,"y":1.509},{"k":"f","c":"BP","e":14,"t":75,"y":1.425},{"k":"f","c":"BP","e":14,"t":100,"y":1.355},{"k":"f","c":"BP","e":14,"t":128,"y":1.290},
{"k":"f","c":"BP","e":18,"t":8,"y":1.816},{"k":"f","c":"BP","e":18,"t":15,"y":1.757},{"k":"f","c":"BP","e":18,"t":30,"y":1.644},{"k":"f","c":"BP","e":18,"t":50,"y":1.519},{"k":"f","c":"BP","e":18,"t":75,"y":1.396},{"k":"f","c":"BP","e":18,"t":100,"y":1.302},{"k":"f","c":"BP","e":18,"t":128,"y":1.223},
{"k":"l","c":"MP","e":6,"t":33,"y":3.02,"txt":"El 6"},{"k":"l","c":"MP","e":10,"t":36,"y":3.0,"txt":"El 10"},{"k":"l","c":"MP","e":14,"t":44,"y":3.0,"txt":"El 14"},{"k":"l","c":"MP","e":18,"t":51,"y":3.0,"txt":"El 18"},
{"k":"l","c":"BP","e":6,"t":33,"y":3.03,"txt":"El 6"},{"k":"l","c":"BP","e":10,"t":36,"y":3.03,"txt":"El 10"},{"k":"l","c":"BP","e":14,"t":44,"y":3.06,"txt":"El 14"},{"k":"l","c":"BP","e":18,"t":50,"y":3.06,"txt":"El 18"},
{"k":"q","c":"MP","e":6,"t":75,"y":3.22,"txt":"y=1 + 0.80e\nr=0.53, p=0.01\n(est. τ = 120.48 ms)"},{"k":"x","c":"MP","e":6,"t":75,"y":3.22,"txt":"-0.0083t"},
{"k":"q","c":"MP","e":10,"t":75,"y":3.22,"txt":"y=1 + 0.92e\nr=0.61, p=0.006\n(est. τ = 83.33 ms)"},{"k":"x","c":"MP","e":10,"t":75,"y":3.22,"txt":"-0.012t"},
{"k":"q","c":"MP","e":14,"t":75,"y":3.22,"txt":"y=1 + 0.94e\nr=0.58, p=0.004\n(est. τ = 88.49 ms)"},{"k":"x","c":"MP","e":14,"t":75,"y":3.22,"txt":"-0.0113t"},
{"k":"q","c":"MP","e":18,"t":76,"y":3.22,"txt":"y=1 + 0.94e\nr=0.60, p=0.002\n(est. τ = 100 ms)"},{"k":"x","c":"MP","e":18,"t":76,"y":3.22,"txt":"-0.01t"},
{"k":"q","c":"BP","e":6,"t":75,"y":3.22,"txt":"y=1 + 0.64e\nr=0.33, p=0.12\n(est. τ = 188.67 ms)"},{"k":"x","c":"BP","e":6,"t":75,"y":3.22,"txt":"-0.0053t"},
{"k":"q","c":"BP","e":14,"t":79,"y":3.22,"txt":"y=1 + 0.73e\nr=0.32, p=0.19\n(est. τ = 138.89 ms)"},{"k":"x","c":"BP","e":14,"t":79,"y":3.22,"txt":"-0.0072t"},
{"k":"q","c":"BP","e":18,"t":82,"y":3.22,"txt":"y=1 + 0.89e\nr=0.50, p=0.008\n(est. τ = 92.59 ms)"},{"k":"x","c":"BP","e":18,"t":82,"y":3.22,"txt":"-0.0108t"}
]
},
"vconcat": [
{
 "title": {"text": "40% DR", "anchor": "middle", "offset": -34, "dx": -10},
 "data": {"name": "d40"},
 "bounds": "flush",
 "facet": {
  "row": {"field": "c", "type": "nominal", "sort": ["MP", "BP"], "title": "Ratio of Masked/Unmasked Threshold", "header": {"labelOrient": "right", "labelAngle": 0, "labelFontSize": 25, "labelPadding": -31, "labelBaseline": "middle", "labelAlign": "left", "titleOrient": "left", "titleFontSize": 19, "titleFontWeight": "normal", "titlePadding": 2}},
  "column": {"field": "e", "type": "ordinal", "title": "Probe delay (ms)", "header": {"labels": false, "titleOrient": "bottom", "titleFontSize": 19, "titleFontWeight": "normal", "titlePadding": 4}}
 },
 "spacing": {"row": 20, "column": 16},
 "spec": {
  "width": 163, "height": 161,
  "encoding": {
   "x": {"field": "t", "type": "quantitative", "title": null, "scale": {"domain": [0, 140], "nice": false}, "axis": {"values": [0, 20, 40, 60, 80, 100, 120, 140], "title": null}},
   "y": {"field": "y", "type": "quantitative", "title": null, "scale": {"domain": [0.5, 3.5], "nice": false}, "axis": {"values": [0.5, 1, 1.5, 2, 2.5, 3, 3.5], "labelExpr": "'' + datum.value", "title": null}}
  },
  "layer": [
   {"transform": [{"filter": "datum.k === 'p'"}], "mark": {"type": "point", "filled": true, "size": 75, "opacity": 1},
    "encoding": {
     "color": {"field": "s", "type": "nominal", "scale": {"domain": ["N1", "N2", "N4", "N5", "N6", "N7", "Mean"], "range": ["#4a7ef2", "#c8245e", "#e8731f", "#a9a9a9", "#5b22c9", "#c8245e", "#3e8e2e"]},
      "legend": {"title": null, "orient": "none", "legendX": 2, "legendY": -37, "columns": 4, "strokeColor": "#666", "padding": 4, "symbolSize": 60, "columnPadding": 14, "rowPadding": 1, "symbolStrokeWidth": 0,
       "labelColor": {"expr": "datum.value === 'N1' ? '#4a7ef2' : datum.value === 'N4' ? '#e8731f' : datum.value === 'N6' ? '#5b22c9' : datum.value === 'Mean' ? '#3e8e2e' : datum.value === 'N5' ? '#a9a9a9' : '#c8245e'"}}},
     "shape": {"field": "s", "type": "nominal", "scale": {"domain": ["N1", "N2", "N4", "N5", "N6", "N7", "Mean"], "range": ["square", "circle", "triangle-down", "M1,-1L1,1L-1,1Z", "triangle-up", "triangle-up", "diamond"]},
      "legend": {"title": null, "orient": "none", "legendX": 2, "legendY": -37, "columns": 4, "strokeColor": "#666", "padding": 4, "symbolSize": 60, "columnPadding": 14, "rowPadding": 1, "symbolStrokeWidth": 0,
       "labelColor": {"expr": "datum.value === 'N1' ? '#4a7ef2' : datum.value === 'N4' ? '#e8731f' : datum.value === 'N6' ? '#5b22c9' : datum.value === 'Mean' ? '#3e8e2e' : datum.value === 'N5' ? '#a9a9a9' : '#c8245e'"}}}
    }},
   {"transform": [{"filter": "datum.k === 'f'"}], "mark": {"type": "line", "color": "#3e8e2e", "strokeWidth": 1.4, "interpolate": "monotone"}, "encoding": {}},
   {"transform": [{"filter": "datum.k === 'm' && isValid(datum.lo)"}], "mark": {"type": "errorbar", "ticks": true, "thickness": 1.2},
    "encoding": {"y": {"field": "lo", "type": "quantitative", "title": null}, "y2": {"field": "hi", "title": null}, "color": {"value": "#3e8e2e"}}},
   {"transform": [{"filter": "datum.k === 'm'"}], "mark": {"type": "point", "filled": true, "size": 125, "opacity": 1},
    "encoding": {"color": {"field": "s", "type": "nominal"}, "shape": {"field": "s", "type": "nominal"}}},
   {"transform": [{"filter": "datum.k === 'l'"}], "mark": {"type": "text", "fontSize": 19, "font": "Liberation Serif", "align": "center", "baseline": "middle", "color": "#000"}, "encoding": {"text": {"field": "txt"}}},
   {"transform": [{"filter": "datum.k === 'q'"}], "mark": {"type": "text", "fontSize": 9, "font": "Liberation Serif", "align": "left", "baseline": "alphabetic", "lineBreak": "\n", "lineHeight": 10.5, "color": "#000"}, "encoding": {"text": {"field": "txt"}}},
   {"transform": [{"filter": "datum.k === 'x'"}], "mark": {"type": "text", "fontSize": 6.5, "font": "Liberation Serif", "align": "left", "baseline": "alphabetic", "dx": 44, "dy": -4.5, "color": "#000"}, "encoding": {"text": {"field": "txt"}}},
   {"transform": [{"filter": "datum.k === 'x2'"}], "mark": {"type": "text", "fontSize": 6.5, "font": "Liberation Serif", "align": "left", "baseline": "alphabetic", "dx": 46, "dy": -4.5, "color": "#000"}, "encoding": {"text": {"field": "txt"}}}
  ]
 }
},
{
 "title": {"text": "70% DR", "anchor": "middle", "offset": -39, "dx": 14},
 "data": {"name": "d70"},
 "bounds": "flush",
 "facet": {
  "row": {"field": "c", "type": "nominal", "sort": ["MP", "BP"], "title": "Ratio of Masked/Unmasked Threshold", "header": {"labelOrient": "right", "labelAngle": 0, "labelFontSize": 25, "labelPadding": -31, "labelBaseline": "middle", "labelAlign": "left", "titleOrient": "left", "titleFontSize": 19, "titleFontWeight": "normal", "titlePadding": 2}},
  "column": {"field": "e", "type": "ordinal", "title": "Probe delay (ms)", "header": {"labels": false, "titleOrient": "bottom", "titleFontSize": 19, "titleFontWeight": "normal", "titlePadding": 4}}
 },
 "spacing": {"row": 20, "column": 16},
 "spec": {
  "width": 163, "height": 163,
  "encoding": {
   "x": {"field": "t", "type": "quantitative", "title": null, "scale": {"domain": [0, 140], "nice": false}, "axis": {"values": [0, 20, 40, 60, 80, 100, 120, 140], "title": null}},
   "y": {"field": "y", "type": "quantitative", "title": null, "scale": {"domain": [0.5, 3.5], "nice": false}, "axis": {"values": [0.5, 1, 1.5, 2, 2.5, 3, 3.5], "labelExpr": "'' + datum.value", "title": null}}
  },
  "layer": [
   {"transform": [{"filter": "datum.k === 'p'"}], "mark": {"type": "point", "filled": true, "size": 75, "opacity": 1},
    "encoding": {
     "color": {"field": "s", "type": "nominal", "scale": {"domain": ["N1", "N2", "N3_RE", "N3_LE", "N4", "N5", "N6", "N7", "Mean"], "range": ["#4a7ef2", "#c81e1e", "#6a28cc", "#000000", "#e8731f", "#a9a9a9", "#5b22c9", "#c81e1e", "#3e8e2e"]},
      "legend": {"title": null, "orient": "none", "legendX": 0, "legendY": -50, "columns": 3, "strokeColor": "#666", "padding": 2, "symbolSize": 50, "columnPadding": 8, "rowPadding": 0, "symbolStrokeWidth": 0,
       "labelColor": {"expr": "datum.value === 'N1' ? '#4a7ef2' : datum.value === 'N3_LE' ? '#000000' : datum.value === 'N6' || datum.value === 'N3_RE' ? '#5b22c9' : datum.value === 'Mean' ? '#3e8e2e' : datum.value === 'N5' ? '#a9a9a9' : datum.value === 'N4' ? '#e8731f' : '#c81e1e'"}}},
     "shape": {"field": "s", "type": "nominal", "scale": {"domain": ["N1", "N2", "N3_RE", "N3_LE", "N4", "N5", "N6", "N7", "Mean"], "range": ["square", "circle", "M-1,-1L-1,1L1,1Z", "circle", "triangle-down", "M1,-1L1,1L-1,1Z", "triangle-up", "triangle-up", "diamond"]},
      "legend": {"title": null, "orient": "none", "legendX": 0, "legendY": -50, "columns": 3, "strokeColor": "#666", "padding": 2, "symbolSize": 50, "columnPadding": 8, "rowPadding": 0, "symbolStrokeWidth": 0,
       "labelColor": {"expr": "datum.value === 'N1' ? '#4a7ef2' : datum.value === 'N3_LE' ? '#000000' : datum.value === 'N6' || datum.value === 'N3_RE' ? '#5b22c9' : datum.value === 'Mean' ? '#3e8e2e' : datum.value === 'N5' ? '#a9a9a9' : datum.value === 'N4' ? '#e8731f' : '#c81e1e'"}}}
    }},
   {"transform": [{"filter": "datum.k === 'f'"}], "mark": {"type": "line", "color": "#3e8e2e", "strokeWidth": 1.4, "interpolate": "monotone"}, "encoding": {}},
   {"transform": [{"filter": "datum.k === 'm' && isValid(datum.lo)"}], "mark": {"type": "errorbar", "ticks": true, "thickness": 1.2},
    "encoding": {"y": {"field": "lo", "type": "quantitative", "title": null}, "y2": {"field": "hi", "title": null}, "color": {"value": "#3e8e2e"}}},
   {"transform": [{"filter": "datum.k === 'm'"}], "mark": {"type": "point", "filled": true, "size": 125, "opacity": 1},
    "encoding": {"color": {"field": "s", "type": "nominal"}, "shape": {"field": "s", "type": "nominal"}}},
   {"transform": [{"filter": "datum.k === 'l'"}], "mark": {"type": "text", "fontSize": 19, "font": "Liberation Serif", "align": "center", "baseline": "middle", "color": "#000"}, "encoding": {"text": {"field": "txt"}}},
   {"transform": [{"filter": "datum.k === 'q'"}], "mark": {"type": "text", "fontSize": 9, "font": "Liberation Serif", "align": "left", "baseline": "alphabetic", "lineBreak": "\n", "lineHeight": 10.5, "color": "#000"}, "encoding": {"text": {"field": "txt"}}},
   {"transform": [{"filter": "datum.k === 'x'"}], "mark": {"type": "text", "fontSize": 6.5, "font": "Liberation Serif", "align": "left", "baseline": "alphabetic", "dx": 44, "dy": -4.5, "color": "#000"}, "encoding": {"text": {"field": "txt"}}}
  ]
 }
}
],
"spacing": 36,
"resolve": {"scale": {"color": "independent", "shape": "independent"}, "legend": {"color": "independent", "shape": "independent"}}
}
